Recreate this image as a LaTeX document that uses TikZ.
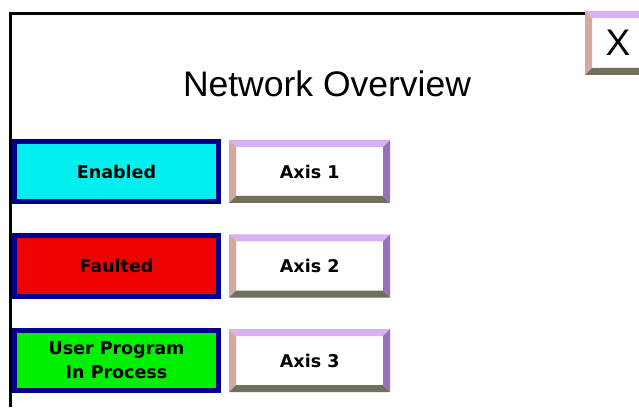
\documentclass[tikz,border=0pt]{standalone}
\usepackage{fontspec}
\setmainfont{Liberation Sans}
\newfontfamily\panelfont{DejaVu Sans}
\usetikzlibrary{positioning}

\definecolor{navyEdge}{RGB}{0,0,140}
\definecolor{enabledCyan}{RGB}{0,240,240}
\definecolor{faultRed}{RGB}{240,0,0}
\definecolor{runGreen}{RGB}{0,240,0}
\definecolor{bevelTop}{RGB}{216,176,244}
\definecolor{bevelLeft}{RGB}{212,170,160}
\definecolor{bevelBottom}{RGB}{112,112,92}
\definecolor{bevelRight}{RGB}{152,112,188}

\begin{document}
\begin{tikzpicture}[x=1pt, y=1pt,
	statusbox/.style={rectangle, draw=navyEdge, line width=5pt, minimum width=204pt, minimum height=60pt, inner sep=0pt, align=center, font={\panelfont\bfseries\fontsize{17.5}{24}\selectfont}},
	bevelbutton/.style={rectangle, fill=white, minimum width=161pt, minimum height=63pt, inner sep=0pt, font={\panelfont\bfseries\fontsize{17.5}{24}\selectfont},
		path picture={
			\fill[bevelTop] (path picture bounding box.north west) -- (path picture bounding box.north east) -- ([xshift=-7pt,yshift=-7pt]path picture bounding box.north east) -- ([xshift=7pt,yshift=-7pt]path picture bounding box.north west) -- cycle;
			\fill[bevelLeft] (path picture bounding box.north west) -- ([xshift=7pt,yshift=-7pt]path picture bounding box.north west) -- ([xshift=7pt,yshift=7pt]path picture bounding box.south west) -- (path picture bounding box.south west) -- cycle;
			\fill[bevelBottom] (path picture bounding box.south west) -- ([xshift=7pt,yshift=7pt]path picture bounding box.south west) -- ([xshift=-7pt,yshift=7pt]path picture bounding box.south east) -- (path picture bounding box.south east) -- cycle;
			\fill[bevelRight] (path picture bounding box.north east) -- (path picture bounding box.south east) -- ([xshift=-7pt,yshift=7pt]path picture bounding box.south east) -- ([xshift=-7pt,yshift=-7pt]path picture bounding box.north east) -- cycle;
		}}]
	\useasboundingbox (0,0) rectangle (639,407);

	% window frame
	\draw[line width=3pt] (10.5,0) -- (10.5,393.5) -- (590,393.5);

	% close button and title
	\node[bevelbutton, minimum width=66pt, minimum height=64pt, font=\fontsize{37}{40}\selectfont](closeBtn) at (618,364){X};
	\node[font=\fontsize{35.5}{40}\selectfont, anchor=base](title) at (327,310){Network Overview};

	% status indicators
	\node[statusbox, fill=enabledCyan](enabledBox) at (116.5,235.5){Enabled};
	\node[statusbox, fill=faultRed](faultedBox) at (116.5,141){Faulted};
	\node[statusbox, fill=runGreen](programBox) at (116.5,46.5){User Program\\In Process};

	% axis buttons
	\node[bevelbutton, right=8pt of enabledBox](axisOne){Axis 1};
	\node[bevelbutton, right=8pt of faultedBox](axisTwo){Axis 2};
	\node[bevelbutton, right=8pt of programBox](axisThree){Axis 3};
\end{tikzpicture}
\end{document}
